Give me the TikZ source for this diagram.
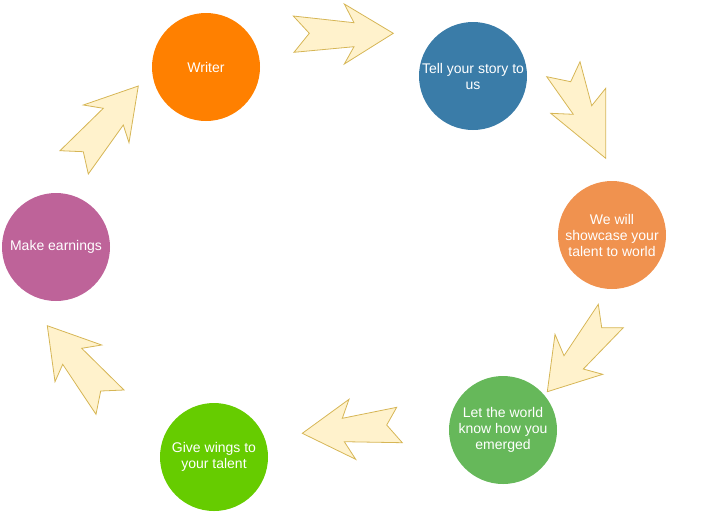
\documentclass[tikz,border=0pt]{standalone}
\usepackage{fontspec}
\setmainfont{Liberation Sans}
\definecolor{cWriter}{HTML}{FF8000}
\definecolor{cTell}{HTML}{3A7CA8}
\definecolor{cShow}{HTML}{F0924F}
\definecolor{cLet}{HTML}{66B85A}
\definecolor{cWings}{HTML}{66CC00}
\definecolor{cEarn}{HTML}{BE6399}
\definecolor{arrFill}{HTML}{FFF2CC}
\definecolor{arrLine}{HTML}{D6B656}
\tikzset{
  stepcircle/.style={circle, fill=#1, draw=none, minimum size=108pt, inner sep=0pt},
  steptext/.style={align=center, text=white, inner sep=0pt,
    font=\fontsize{14pt}{16pt}\selectfont},
  blockarrow/.style={fill=arrFill, draw=arrLine, line width=0.8pt, line join=miter}
}
\begin{document}
\begin{tikzpicture}[x=1pt, y=-1pt]
\useasboundingbox (0,0) rectangle (711,515);
% circles
\node[stepcircle=cWriter, label={[steptext]center:Writer}] (writer) at (206,67) {};
\node[stepcircle=cTell, label={[steptext]center:Tell your story to\\us}] (tell) at (473,76) {};
\node[stepcircle=cShow, label={[steptext]center:We will\\showcase your\\talent to world}] (show) at (612,235) {};
\node[stepcircle=cLet, label={[steptext]center:Let the world\\know how you\\emerged}] (let) at (503,430) {};
\node[stepcircle=cWings, label={[steptext]center:Give wings to\\your talent}] (wings) at (214,457) {};
\node[stepcircle=cEarn, label={[steptext]center:Make earnings}] (earn) at (56,247) {};
% block arrows
\draw[blockarrow] (293.3,16) -- (354,22.7) -- (344.3,4) -- (393.3,33.3) -- (344.3,64) -- (354,46.7) -- (294,52.3) -- (309.3,33.3) -- cycle;
\draw[blockarrow] (546.7,76.7) -- (570.7,81.7) -- (580,61.7) -- (591.7,105.7) -- (605.7,88.3) -- (605.7,158.3) -- (550.7,113.3) -- (573.3,114.3) -- cycle;
\draw[blockarrow] (598.3,304.3) -- (601.7,327.7) -- (623.3,327.7) -- (583.3,369) -- (602.7,374.3) -- (547.3,391.7) -- (555,334.3) -- (564,355.7) -- cycle;
\draw[blockarrow] (396.7,407.3) -- (386.7,425) -- (402.3,442.7) -- (344.3,441.7) -- (355.7,459.3) -- (302.3,433.3) -- (349,399.3) -- (342.3,418.3) -- cycle;
\draw[blockarrow] (47.3,325.7) -- (101.7,345) -- (81.7,348.3) -- (124,390) -- (100.7,391) -- (96,414.3) -- (62.7,364.3) -- (55,381.7) -- cycle;
\draw[blockarrow] (138.3,86) -- (83.3,105) -- (103.3,108.3) -- (60,150.7) -- (83.3,151.7) -- (88.3,174) -- (123.3,125) -- (129,142.7) -- cycle;
\end{tikzpicture}
\end{document}
